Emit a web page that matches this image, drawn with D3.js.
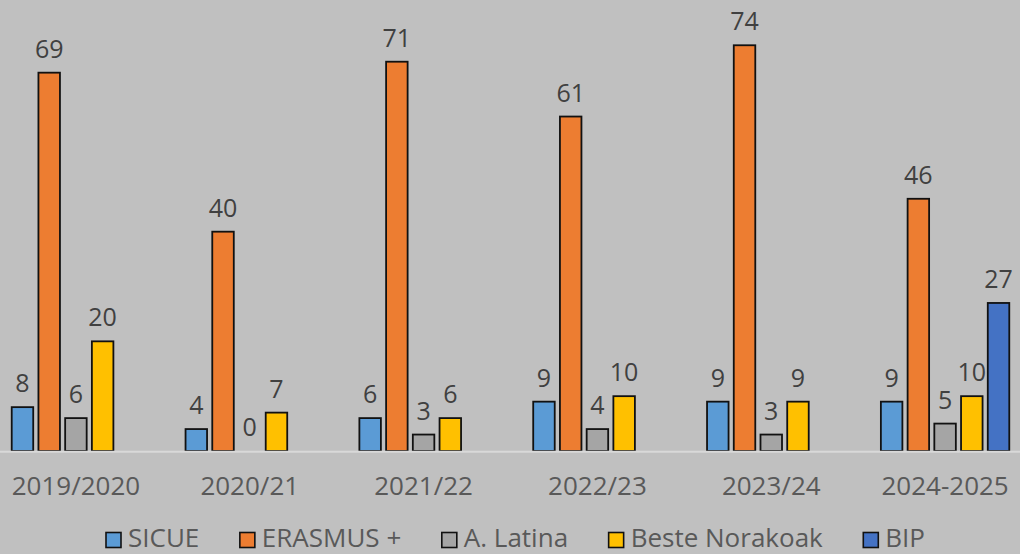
<!DOCTYPE html>
<html>
<head>
<meta charset="utf-8">
<script src="https://cdn.jsdelivr.net/npm/d3@7"></script>
<style>
  html, body { margin: 0; padding: 0; background: #c0c0c0; }
  svg { display: block; font-family: "Open Sans", sans-serif; }
</style>
</head>
<body>
<svg id="chart" width="1020" height="554"></svg>
<script>
const years = ["2019/2020", "2020/21", "2021/22", "2022/23", "2023/24", "2024-2025"];
const series = ["SICUE", "ERASMUS +", "A. Latina", "Beste Norakoak", "BIP"];
const colors = ["#5b9bd5", "#ed7d31", "#a5a5a5", "#ffc000", "#4472c4"];

// one array per series, one value per year (null = no bar)
const sicue   = [8, 4, 6, 9, 9, 9];
const erasmus = [69, 40, 71, 61, 74, 46];
const latina  = [6, 0, 3, 4, 3, 5];
const beste   = [20, 7, 6, 10, 9, 10];
const bip     = [null, null, null, null, null, 27];
const values = [sicue, erasmus, latina, beste, bip];

const svg = d3.select("#chart");
const baseY = 451;

const x0 = d3.scaleBand().domain(years).range([-11, 1032]).padding(0);
const x1 = d3.scaleBand().domain(series).range([0, x0.bandwidth()])
    .paddingInner(0.195).paddingOuter(0.85);
const y = d3.scaleLinear().domain([0, 80]).range([baseY, baseY - 80 * 5.483]);
const color = d3.scaleOrdinal().domain(series).range(colors);

const rows = [];
years.forEach((yr, i) => {
    series.forEach((s, j) => {
        if (values[j][i] !== null) rows.push({ year: yr, key: s, value: values[j][i] });
    });
});

// bars
svg.append("g")
    .selectAll("rect")
    .data(rows.filter(d => d.value > 0))
    .enter()
    .append("rect")
    .attr("x", d => x0(d.year) + x1(d.key))
    .attr("y", d => y(d.value))
    .attr("width", x1.bandwidth())
    .attr("height", d => baseY - y(d.value))
    .attr("fill", d => color(d.key))
    .attr("stroke", "#111")
    .attr("stroke-width", 1.8);

// baseline
svg.append("line")
    .attr("x1", 0).attr("x2", 1020)
    .attr("y1", baseY + 0.8).attr("y2", baseY + 0.8)
    .attr("stroke", "#d9d9d9")
    .attr("stroke-width", 2);

// value labels
svg.append("g")
    .selectAll("text")
    .data(rows)
    .enter()
    .append("text")
    .attr("x", d => x0(d.year) + x1(d.key) + x1.bandwidth() / 2)
    .attr("y", d => y(d.value) - 15)
    .attr("text-anchor", "middle")
    .attr("font-size", 25)
    .attr("fill", "#404040")
    .text(d => d.value);

// x axis labels
const xAxis = d3.axisBottom(x0).tickSize(0).tickPadding(0);
const gx = svg.append("g").attr("transform", `translate(0,${baseY})`).call(xAxis);
gx.select(".domain").remove();
gx.selectAll("text")
    .attr("y", 44)
    .attr("dy", null)
    .attr("font-size", 26)
    .attr("font-family", "Open Sans, sans-serif")
    .attr("fill", "#595959");

// legend, spread between x=106 and x=925 like the original
const legend = svg.append("g");
const items = legend.selectAll("g")
    .data(series)
    .enter()
    .append("g");
items.append("rect")
    .attr("width", 15).attr("height", 15)
    .attr("y", 532.5)
    .attr("fill", d => color(d))
    .attr("stroke", "#111")
    .attr("stroke-width", 1.6);
items.append("text")
    .attr("x", 22)
    .attr("y", 547)
    .attr("font-size", 26)
    .attr("fill", "#595959")
    .text(d => d);

const widths = [];
items.each(function () {
    widths.push(22 + d3.select(this).select("text").node().getComputedTextLength());
});
const gap = (925 - 106 - d3.sum(widths)) / (series.length - 1);
let cx = 106;
const offsets = widths.map(w => { const o = cx; cx += w + gap; return o; });
items.attr("transform", (d, i) => `translate(${offsets[i]},0)`);
</script>
</body>
</html>
